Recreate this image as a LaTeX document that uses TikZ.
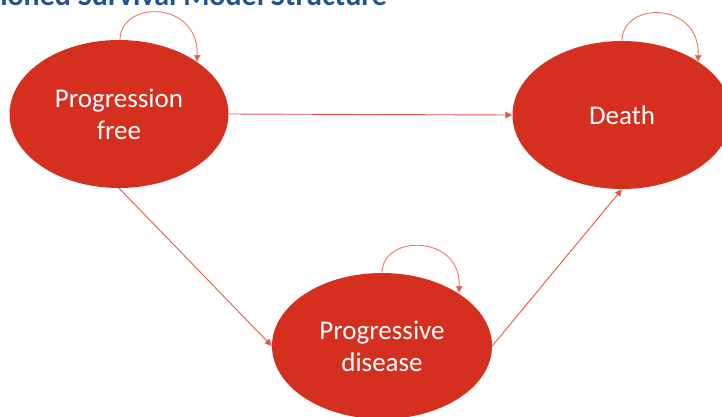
\documentclass[tikz,border=0pt]{standalone}
\usepackage{fontspec}
\setmainfont{Carlito}
\usetikzlibrary{shapes.geometric,arrows.meta}
\definecolor{statered}{RGB}{213,47,31}
\definecolor{linkred}{RGB}{226,88,72}
\definecolor{loopred}{RGB}{232,120,105}
\definecolor{titleblue}{RGB}{36,82,145}
\tikzset{
  state/.style={ellipse, fill=statered, draw=none, inner sep=0pt,
    minimum width=219pt, minimum height=148pt, text=white,
    font=\fontsize{27}{32}\selectfont, align=center},
  link/.style={draw=linkred, line width=0.9pt, -{Triangle[length=7pt,width=6.5pt]}},
  selfloop/.style={draw=loopred, line width=0.9pt, -{Triangle[length=7pt,width=6.5pt,fill=linkred]}}
}
\begin{document}
\begin{tikzpicture}[x=1pt,y=-1pt]
\useasboundingbox (0,0) rectangle (722,416);
\clip (0,0) rectangle (722,416);
\node[anchor=base east, text=titleblue, font=\bfseries\fontsize{30}{34}\selectfont, inner sep=0pt] (title) at (387,5) {Partitioned Survival Model Structure};
\node[state] (pf) at (119,114) {Progression\\free};
\node[state] (death) at (622,115) {Death};
\node[state, minimum width=220pt, minimum height=146pt] (pd) at (382,346) {Progressive\\disease};
\draw[link] (pf.east) -- (death.west);
\draw[link] (pf.south) -- (pd.west);
\draw[link] (pd.east) -- (death.south);
\coordinate (pfa) at (120,40);
\coordinate (pfb) at (197,62);
\draw[selfloop] (pfa) .. controls (120,0) and (199,0) .. (pfb);
\coordinate (dea) at (622,41);
\coordinate (deb) at (698,62);
\draw[selfloop] (dea) .. controls (622,1) and (700,1) .. (deb);
\coordinate (pda) at (382,273);
\coordinate (pdb) at (459,293);
\draw[selfloop] (pda) .. controls (382,234) and (461,234) .. (pdb);
\end{tikzpicture}
\end{document}
